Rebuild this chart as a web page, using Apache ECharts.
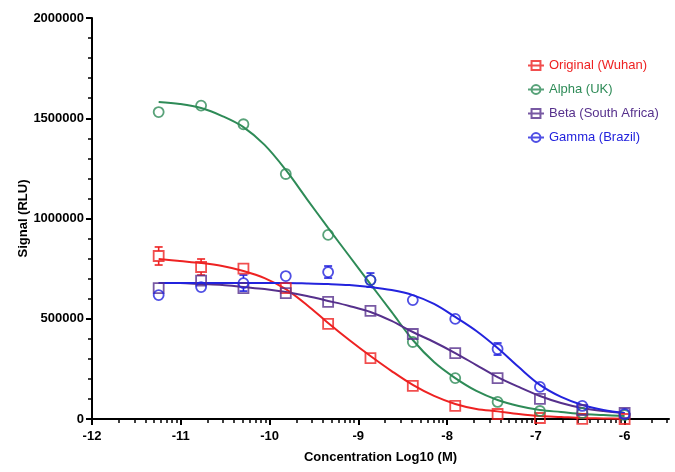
<!DOCTYPE html>
<html><head><meta charset="utf-8">
<script src="https://cdn.jsdelivr.net/npm/echarts@6/dist/echarts.min.js"></script>
<style>html,body{margin:0;padding:0;background:#fff}#c{width:675px;height:472px}</style>
</head><body><div id="c"></div>
<script>
// ---- data ----
const concentrations = [-11.249, -10.771, -10.294, -9.817, -9.34, -8.863, -8.386, -7.908, -7.431, -6.954, -6.477, -6.0];
const seriesNames = ['Original (Wuhan)', 'Alpha (UK)', 'Beta (South Africa)', 'Gamma (Brazil)'];
const originalSignal = [813000, 758000, 750000, 653000, 474000, 304000, 165000, 65000, 25000, 5000, 1000, 0];
const alphaSignal    = [1531000, 1563000, 1470000, 1222000, 918000, 693000, 384000, 204000, 85000, 40000, 30000, 20000];
const betaSignal     = [653000, 690000, 653000, 628000, 584000, 539000, 424000, 329000, 204000, 100000, 45000, 30000];
const gammaSignal    = [618000, 658000, 678000, 713000, 733000, 693000, 593000, 499000, 349000, 160000, 65000, 25000];
const originalErr = [45000, 40000, 15000, 10000, 10000, 8000, 8000, 5000, 5000, 3000, 2000, 2000];
const alphaErr    = [15000, 15000, 15000, 15000, 15000, 15000, 15000, 10000, 10000, 5000, 5000, 5000];
const betaErr     = [20000, 20000, 25000, 15000, 15000, 15000, 15000, 15000, 15000, 10000, 10000, 10000];
const gammaErr    = [20000, 20000, 40000, 15000, 30000, 35000, 15000, 15000, 30000, 10000, 10000, 10000];

// fitted curves
const curveX = [-11.249, -11.01, -10.771, -10.533, -10.294, -10.056, -9.817, -9.579, -9.34, -9.102, -8.863, -8.625, -8.386, -8.147, -7.908, -7.67, -7.431, -7.193, -6.954, -6.716, -6.477, -6.239, -6.0];
const originalFit = [798000, 788000, 778000, 763000, 738000, 703000, 648000, 569000, 479000, 394000, 314000, 239000, 170000, 115000, 75000, 50000, 38000, 25000, 15000, 10000, 5000, 3000, 1000];
const alphaFit    = [1581000, 1571000, 1551000, 1511000, 1456000, 1367000, 1242000, 1097000, 953000, 813000, 673000, 534000, 394000, 284000, 204000, 140000, 95000, 65000, 45000, 35000, 25000, 20000, 15000];
const betaFit     = [678000, 678000, 673000, 668000, 658000, 648000, 633000, 613000, 589000, 564000, 534000, 489000, 434000, 384000, 329000, 269000, 209000, 160000, 115000, 80000, 55000, 40000, 30000];
const gammaFit    = [678000, 678000, 678000, 678000, 678000, 678000, 678000, 676000, 673000, 668000, 658000, 643000, 618000, 574000, 509000, 439000, 354000, 259000, 170000, 110000, 70000, 45000, 30000];

const xMajorTicks = [-12, -11, -10, -9, -8, -7, -6];
const yTickLabels = [0, 500000, 1000000, 1500000, 2000000];

const colors = ['#EE2222', '#2E8B57', '#56308C', '#2323DD'];
const symbols = ['rect', 'circle', 'rect', 'circle'];
const values = [originalSignal, alphaSignal, betaSignal, gammaSignal];
const errs = [originalErr, alphaErr, betaErr, gammaErr];
const fits = [originalFit, alphaFit, betaFit, gammaFit];
const MARK = 10;

// log-spaced minor ticks
const xMinorTicks = [];
for (let d = -12; d <= -6; d++) for (let k = 2; k <= 9; k++) { const v = d + Math.log10(k); if (v <= -5.5) xMinorTicks.push(v); }

const FONT = '"Liberation Sans", Arial, sans-serif';
const series = [];
for (let i = 0; i < 4; i++) {
  series.push({
    name: 'fit' + i, type: 'line', xAxisIndex: 0, yAxisIndex: 0,
    data: curveX.map((x, j) => [x, fits[i][j]]),
    smooth: 0.35, showSymbol: false, symbol: 'none', silent: true,
    lineStyle: { color: colors[i], width: 2 }, z: 2
  });
}
for (let i = 0; i < 4; i++) {
  series.push({
    name: 'err' + i, type: 'custom', xAxisIndex: 0, yAxisIndex: 0,
    data: concentrations.map((x, j) => [x, values[i][j] - errs[i][j], values[i][j] + errs[i][j], values[i][j]]),
    renderItem: function (params, api) {
      const lo = api.coord([api.value(0), api.value(1)]);
      const hi = api.coord([api.value(0), api.value(2)]);
      const c = api.coord([api.value(0), api.value(3)]);
      const half = MARK / 2;
      if (lo[1] - c[1] <= half + 0.5) return { type: 'group', children: [] };
      const w = 4;
      const st = { stroke: colors[i], lineWidth: 1.6 };
      return { type: 'group', children: [
        { type: 'line', shape: { x1: c[0], y1: c[1] + half, x2: lo[0], y2: lo[1] }, style: st },
        { type: 'line', shape: { x1: c[0], y1: c[1] - half, x2: hi[0], y2: hi[1] }, style: st },
        { type: 'line', shape: { x1: lo[0] - w, y1: lo[1], x2: lo[0] + w, y2: lo[1] }, style: st },
        { type: 'line', shape: { x1: hi[0] - w, y1: hi[1], x2: hi[0] + w, y2: hi[1] }, style: st }
      ]};
    },
    silent: true, z: 3
  });
}
for (let i = 0; i < 4; i++) {
  series.push({
    name: seriesNames[i], type: 'scatter', xAxisIndex: 0, yAxisIndex: 0,
    data: concentrations.map((x, j) => [x, values[i][j]]),
    symbol: symbols[i], symbolSize: MARK,
    itemStyle: { color: 'rgba(255,255,255,0)', borderColor: colors[i], borderWidth: 1.8 },
    z: 4
  });
}

const sqIcon = 'path://M4,1H14V11H4Z M0,6H18';
const ciIcon = 'path://M14,6A5,5,0,1,1,4,6A5,5,0,1,1,14,6Z M0,6H18';

const option = {
  animation: false,
  backgroundColor: '#fff',
  grid: { left: 92, right: 6, top: 18, bottom: 53, containLabel: false },
  legend: {
    orient: 'vertical', left: 522, top: 54, itemWidth: 16, itemHeight: 12, itemGap: 11,
    textStyle: { fontFamily: FONT, fontSize: 13 },
    data: seriesNames.map((n, i) => ({
      name: n, icon: symbols[i] === 'rect' ? sqIcon : ciIcon,
      itemStyle: { color: 'rgba(0,0,0,0)', borderColor: colors[i], borderWidth: 2 },
      textStyle: { color: colors[i] }
    }))
  },
  xAxis: [{
    type: 'value', min: -12, max: -5.5, interval: 1,
    name: 'Concentration Log10 (M)', nameLocation: 'middle', nameGap: 32, nameMoveOverlap: false,
    nameTextStyle: { fontFamily: FONT, fontSize: 13, fontWeight: 'bold', color: '#000' },
    axisLine: { show: true, onZero: false, lineStyle: { color: '#000', width: 2 } },
    axisTick: { show: true, length: 6, customValues: xMajorTicks, lineStyle: { color: '#000', width: 2 } },
    axisLabel: { customValues: xMajorTicks, fontFamily: FONT, fontSize: 13, fontWeight: 'bold', color: '#000', margin: 11 },
    splitLine: { show: false }
  }, {
    type: 'value', min: -12, max: -5.5, position: 'bottom',
    axisLine: { show: false },
    axisTick: { show: true, length: 4, customValues: xMinorTicks, lineStyle: { color: '#000', width: 1.5 } },
    axisLabel: { show: false },
    splitLine: { show: false }
  }],
  yAxis: [{
    type: 'value', min: 0, max: 2000000, interval: 500000,
    name: 'Signal (RLU)', nameLocation: 'middle', nameGap: 62, nameMoveOverlap: false,
    nameTextStyle: { fontFamily: FONT, fontSize: 13, fontWeight: 'bold', color: '#000' },
    axisLine: { show: true, lineStyle: { color: '#000', width: 2 } },
    axisTick: { show: true, length: 6, lineStyle: { color: '#000', width: 2 } },
    minorTick: { show: true, splitNumber: 5, length: 4, lineStyle: { color: '#000', width: 1.5 } },
    axisLabel: { customValues: yTickLabels, fontFamily: FONT, fontSize: 13, fontWeight: 'bold', color: '#000', margin: 8,
      formatter: v => String(v) },
    splitLine: { show: false }
  }],
  series: series
};
const chart = echarts.init(document.getElementById('c'), null, { renderer: 'canvas' });
chart.setOption(option);
</script></body></html>
